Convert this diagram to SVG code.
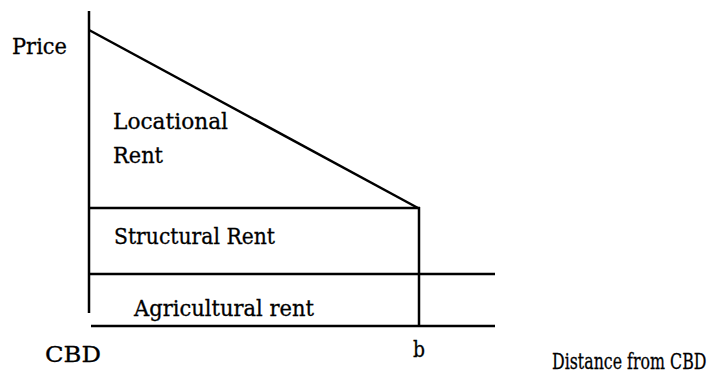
<svg xmlns="http://www.w3.org/2000/svg" width="714" height="377" viewBox="0 0 714 377">
<style>
.ln{stroke:#000;stroke-width:2.5;fill:none;stroke-linecap:butt}
.t{font-family:'DejaVu Serif','Liberation Serif',serif;font-size:22px;fill:#000;stroke:#000;stroke-width:0.3}
</style>
<rect width="714" height="377" fill="#fff"/>
<g id="connectors">
<line class="ln" x1="89" y1="11" x2="89" y2="313"/>
<line class="ln" x1="89" y1="30" x2="418" y2="208"/>
<line class="ln" x1="89" y1="208" x2="420" y2="208"/>
<line class="ln" x1="419" y1="207" x2="419" y2="327"/>
<line class="ln" x1="89" y1="274" x2="495" y2="274"/>
<line class="ln" x1="91" y1="326" x2="495" y2="326"/>
</g>
<g id="labels">
<text class="t" x="12" y="54" textLength="55" lengthAdjust="spacingAndGlyphs">Price</text>
<text class="t" x="113" y="129" textLength="115" lengthAdjust="spacingAndGlyphs">Locational</text>
<text class="t" x="113" y="163" textLength="50" lengthAdjust="spacingAndGlyphs">Rent</text>
<text class="t" x="114" y="244" textLength="161" lengthAdjust="spacingAndGlyphs">Structural Rent</text>
<text class="t" x="134" y="316" textLength="180" lengthAdjust="spacingAndGlyphs">Agricultural rent</text>
<text class="t" x="45" y="362" textLength="56" lengthAdjust="spacingAndGlyphs">CBD</text>
<text class="t" x="413" y="357" textLength="12" lengthAdjust="spacingAndGlyphs">b</text>
<text class="t" font-size="20" transform="matrix(0.78 0 0 1 552 369)" x="0" y="0" textLength="198" lengthAdjust="spacingAndGlyphs">Distance from CBD</text>
</g>
</svg>
